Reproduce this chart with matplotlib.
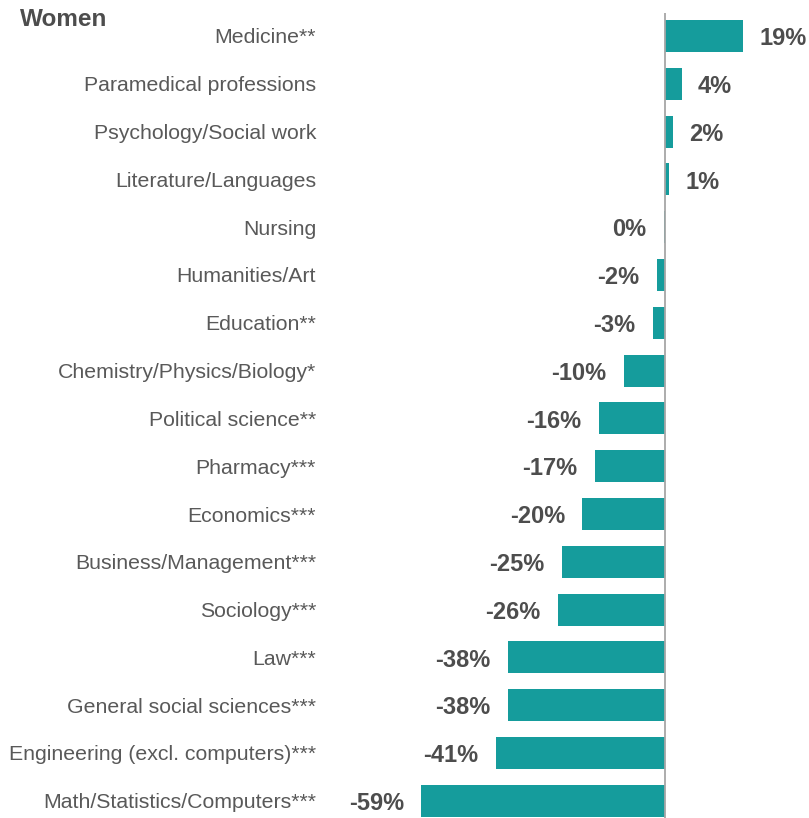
import matplotlib
matplotlib.use("Agg")
import matplotlib.pyplot as plt

categories = [
    "Medicine**", "Paramedical professions", "Psychology/Social work",
    "Literature/Languages", "Nursing", "Humanities/Art", "Education**",
    "Chemistry/Physics/Biology*", "Political science**", "Pharmacy***",
    "Economics***", "Business/Management***", "Sociology***", "Law***",
    "General social sciences***", "Engineering (excl. computers)***",
    "Math/Statistics/Computers***",
]
values = [19, 4, 2, 1, -0.3, -2, -3, -10, -16, -17, -20, -25, -26, -38, -38, -41, -59]
labels = ["19%", "4%", "2%", "1%", "0%", "-2%", "-3%", "-10%", "-16%", "-17%",
          "-20%", "-25%", "-26%", "-38%", "-38%", "-41%", "-59%"]
title = "Women"

W, H = 809, 818
fig = plt.figure(figsize=(W / 100, H / 100), dpi=100)
plt.rcParams['font.family'] = ['Liberation Sans', 'DejaVu Sans']

ax_left, ax_right, ax_top, ax_bottom = 330, 809, 13, 818
ax = fig.add_axes([ax_left / W, 1 - ax_bottom / H, (ax_right - ax_left) / W, (ax_bottom - ax_top) / H])

scale = 4.13  # px per percent
x0 = 665
ax.set_xlim((ax_left - x0) / scale, (ax_right - x0) / scale)
spacing = 47.8
yc0 = 36
ax.set_ylim((ax_bottom - yc0) / spacing, (ax_top - yc0) / spacing)

ypos = list(range(len(categories)))
bar_color = "#159C9C"
ax.barh(ypos, values, height=0.67, color=bar_color, zorder=2)
ax.axvline(0, color="#A6A6A6", linewidth=1.3, zorder=3)

for y, v, lab in zip(ypos, values, labels):
    if v > 0:
        ax.annotate(lab, (v, y), xytext=(11.5, -2), textcoords="offset points",
                    ha="left", va="center", fontsize=17, fontweight="bold", color="#4D4D4D")
    else:
        ax.annotate(lab, (v, y), xytext=(-12.5, -2), textcoords="offset points",
                    ha="right", va="center", fontsize=17, fontweight="bold", color="#4D4D4D")

ax.set_yticks(ypos)
ax.set_yticklabels(categories, fontsize=15.3, color="#595959")
ax.tick_params(axis="y", length=0, pad=10)
ax.set_xticks([])
for s in ax.spines.values():
    s.set_visible(False)

fig.text(20 / W, 1 - 19 / H, title, fontsize=17.5, fontweight="bold", color="#4D4D4D",
         ha="left", va="center")

fig.savefig("out.png", dpi=100)
